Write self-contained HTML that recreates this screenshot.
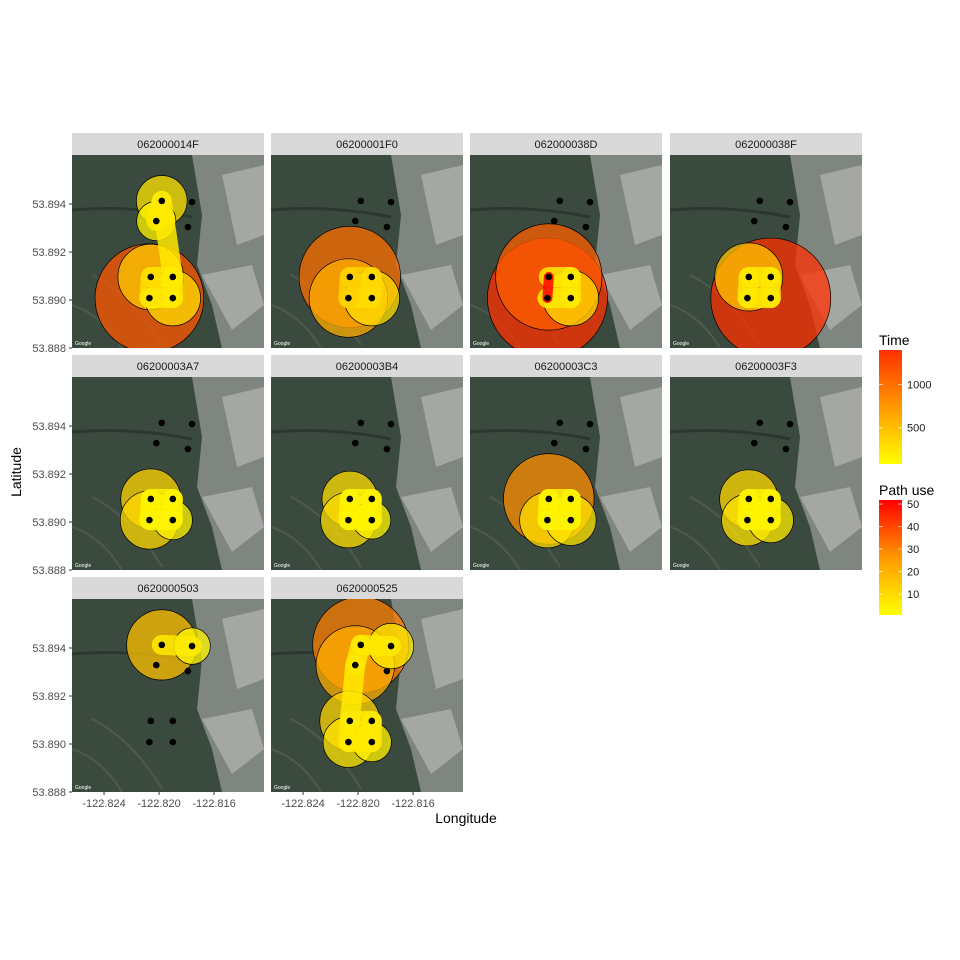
<!DOCTYPE html>
<html><head><meta charset="utf-8"><style>
body{margin:0;background:#fff;}
svg{display:block;font-family:"Liberation Sans",sans-serif;}
</style></head><body>
<svg id="c" width="960" height="960" xmlns="http://www.w3.org/2000/svg">
<defs>
<linearGradient id="timeGrad" x1="0" y1="1" x2="0" y2="0"><stop offset="0" stop-color="#ffff00"/><stop offset="0.5" stop-color="#ff9900"/><stop offset="1" stop-color="#ff3000"/></linearGradient>
<linearGradient id="useGrad" x1="0" y1="1" x2="0" y2="0"><stop offset="0" stop-color="#ffff00"/><stop offset="0.5" stop-color="#ff9900"/><stop offset="1" stop-color="#ff0000"/></linearGradient>
</defs>
</svg>
<script>
const panelNames=["062000014F","06200001F0","062000038D","062000038F","06200003A7","06200003B4","06200003C3","06200003F3","0620000503","0620000525"];
const stationLon=[-122.8198,-122.8202,-122.8176,-122.8179,-122.8206,-122.8190,-122.8207,-122.8190];
const stationLat=[53.89413,53.89329,53.89408,53.89304,53.89096,53.89096,53.89008,53.89008];
const circleStation=[[6,4,7,0,1],[4,6,7],[6,4,7],[7,4],[4,6,7],[4,6,7],[4,6,7],[4,6,7],[0,2],[0,1,2,4,6,7]];
const circleTime=[[1150,420,300,250,150],[1000,600,300],[1400,1100,300],[1400,450],[350,330,150],[300,300,140],[800,300,250],[330,260,200],[480,130],[900,600,200,350,250,150]];
const pathFrom=[[0,0,4,5,4,6],[4,5,6,4],[4,5,6,4],[4,5,6,4],[4,5,6,4],[4,5,6,4],[4,5,6,4],[4,5,6,4],[0],[0,0,1,4,5,6,4]];
const pathTo=[[1,5,5,7,6,7],[5,7,7,6],[5,7,7,6],[5,7,7,6],[5,7,7,6],[5,7,7,6],[5,7,7,6],[5,7,7,6],[2],[2,1,4,5,7,7,6]];
const pathUse=[[5,5,5,5,8,5],[10,8,8,10],[5,5,5,50],[5,5,5,5],[3,3,3,3],[3,3,3,3],[3,3,3,3],[3,3,3,3],[5],[5,5,5,5,5,5,5]];
const latTicks=[53.888,53.890,53.892,53.894];
const lonTicks=[-122.824,-122.820,-122.816];

const NS="http://www.w3.org/2000/svg";
const svg=document.getElementById('c');
function mk(t,a,p){const e=document.createElementNS(NS,t);for(const k in a)e.setAttribute(k,a[k]);(p||svg).appendChild(e);return e;}
const colX=[72,271,470,670], rowY=[155,377,599], PW=192, PH=193;
const lonMin=-122.82633, lonPerPx=0.001/13.75, latMin=53.888, latPerPx=0.001/24;
function xs(lon){return (lon-lonMin)/lonPerPx;}
function ys(lat){return PH-(lat-latMin)/latPerPx;}
function col(v,lo,hi,top){let t=Math.max(0,Math.min(1,(v-lo)/(hi-lo)));return `rgb(255,${Math.round(255-(255-top)*t)},0)`;}

panelNames.forEach((name,i)=>{
  const cx=colX[i%4], cy=rowY[Math.floor(i/4)];
  const g=mk('g',{transform:`translate(${cx},${cy})`});
  
  
  const strip=mk('rect',{x:0,y:-22,width:PW,height:22,fill:'#d9d9d9'},g);
  
  
  const st=mk('text',{x:PW/2,y:-7,'text-anchor':'middle','font-size':11,fill:'#1a1a1a'},g);st.textContent=name;
  
  
  const cp=mk('clipPath',{id:'cp'+i},g);mk('rect',{x:0,y:0,width:PW,height:PH},cp);
  const inner=mk('g',{'clip-path':`url(#cp${i})`},g);
  const bg=mk('rect',{x:0,y:0,width:PW,height:PH,fill:'#3b4a3f'},inner);
  
  
  mk('path',{d:'M120 0 L192 0 L192 193 L150 193 L140 150 L125 110 L130 60 Z',fill:'#7f857f'},inner);
  mk('path',{d:'M150 20 L192 10 L192 80 L165 90 Z M130 120 L180 110 L192 150 L160 175 Z',fill:'#a4a7a2'},inner);
  mk('path',{d:'M0 55 Q60 50 120 62',stroke:'#2b3830',fill:'none','stroke-width':3},inner);
  mk('path',{d:'M20 120 Q60 140 90 190 M0 150 Q30 160 50 193',stroke:'#4c5a4e',fill:'none','stroke-width':2},inner);
  const order=circleStation[i].map((s,k)=>k).sort((a,b)=>circleTime[i][b]-circleTime[i][a]);
  order.forEach(k=>{
    const s=circleStation[i][k],t=circleTime[i][k];
    const c=mk('circle',{cx:xs(stationLon[s]),cy:ys(stationLat[s]),r:60*Math.sqrt(t/1400),fill:col(t,80,1400,48),'fill-opacity':0.75,stroke:'#000','stroke-width':0.7},inner);
    
    
  });
  pathFrom[i].forEach((f,k)=>{
    const to=pathTo[i][k],u=pathUse[i][k];
    const l=mk('line',{x1:xs(stationLon[f]),y1:ys(stationLat[f]),x2:xs(stationLon[to]),y2:ys(stationLat[to]),stroke:col(u,1,50,0),'stroke-width':u>=40?10:20,'stroke-linecap':'round','stroke-opacity':0.85},inner);
    
    
  });
  stationLon.forEach((lo,s)=>{
    const d=mk('circle',{cx:xs(lo),cy:ys(stationLat[s]),r:3.3,fill:'#000'},inner);
    
    
  });
  mk('text',{x:3,y:PH-3,'font-size':5,fill:'#fff'},inner).textContent='Google';
  if(i%4===0){latTicks.forEach(v=>{const y=ys(v);mk('line',{x1:-3,x2:0,y1:y,y2:y,stroke:'#333'},g);
    const t=mk('text',{x:-6,y:y+4,'text-anchor':'end','font-size':11,fill:'#4d4d4d'},g);t.textContent=v.toFixed(3);
    
    });}
  if(i>=8){lonTicks.forEach(v=>{const x=xs(v);mk('line',{x1:x,x2:x,y1:PH,y2:PH+3,stroke:'#333'},g);
    const t=mk('text',{x:x,y:PH+15,'text-anchor':'middle','font-size':11,fill:'#4d4d4d'},g);t.textContent=v.toFixed(3);
    
    });}
});
let t=mk('text',{x:466,y:823,'text-anchor':'middle','font-size':14,fill:'#000'});t.textContent='Longitude';


t=mk('text',{x:21,y:472,'text-anchor':'middle','font-size':14,fill:'#000',transform:'rotate(-90 21 472)'});t.textContent='Latitude';


const timeTicks=[500,1000], timeLo=80, timeHi=1400;
const useTicks=[10,20,30,40,50], useLo=0.7, useHi=51.8;
function legend(title,ty,y0,y1,grad,ticks,lo,hi,nm){
  const g=mk('g',{});
  
  
  const tt=mk('text',{x:879,y:ty,'font-size':14,fill:'#000'},g);tt.textContent=title;
  mk('rect',{x:879,y:y0,width:23,height:y1-y0,fill:`url(#${grad})`},g);
  ticks.forEach(v=>{const y=y1-(v-lo)/(hi-lo)*(y1-y0);
    mk('line',{x1:879,x2:883,y1:y,y2:y,stroke:'#fff','stroke-opacity':0.6},g);mk('line',{x1:898,x2:902,y1:y,y2:y,stroke:'#fff','stroke-opacity':0.6},g);
    const l=mk('text',{x:907,y:y+4,'font-size':11,fill:'#1a1a1a'},g);l.textContent=v;});
}
legend('Time',345,350,464,'timeGrad',timeTicks,timeLo,timeHi,'time-legend');
legend('Path use',495,500,615,'useGrad',useTicks,useLo,useHi,'path-use-legend');
</script>
</body></html>
